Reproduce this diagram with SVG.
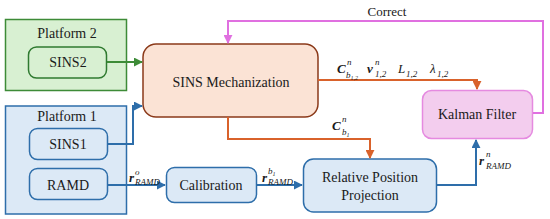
<svg xmlns="http://www.w3.org/2000/svg" width="550" height="219" viewBox="0 0 550 219">
<style>
.t{font-size:14px;text-anchor:middle}
.m{font-size:13px;font-style:italic}
.b{font-weight:bold}
.s{font-size:9px;font-style:italic}
.ln{fill:none;stroke-width:2}
</style>
<defs>
<marker id="ag" viewBox="0 0 10 10" refX="9" refY="5" markerWidth="4.5" markerHeight="4.5" orient="auto"><path d="M0,0L10,5L0,10z" fill="#3d8b37"/></marker>
<marker id="ab" viewBox="0 0 10 10" refX="9" refY="5" markerWidth="4.5" markerHeight="4.5" orient="auto"><path d="M0,0L10,5L0,10z" fill="#2e6eaa"/></marker>
<marker id="ao" viewBox="0 0 10 10" refX="9" refY="5" markerWidth="4.5" markerHeight="4.5" orient="auto"><path d="M0,0L10,5L0,10z" fill="#d9622b"/></marker>
<marker id="ap" viewBox="0 0 10 10" refX="9" refY="5" markerWidth="4.5" markerHeight="4.5" orient="auto"><path d="M0,0L10,5L0,10z" fill="#e070e0"/></marker>
</defs>
<g font-family="'Liberation Serif', 'DejaVu Serif', serif" fill="#1a1a1a">
<g id="platform2">
<rect x="5.5" y="19.5" width="121" height="71" fill="#d8f0d2" stroke="#3d8b37" stroke-width="1.5"/>
<text class="t" x="67" y="38">Platform 2</text>
</g>
<g id="sins2">
<rect x="28.5" y="47" width="78" height="31" rx="8" fill="#d8f0d2" stroke="#2f7a30" stroke-width="1.5"/>
<text class="t" x="68" y="67">SINS2</text>
</g>
<g id="platform1">
<rect x="5.5" y="106" width="121" height="108" fill="#dce9f6" stroke="#2e6eaa" stroke-width="1.5"/>
<text class="t" x="67" y="121">Platform 1</text>
</g>
<g id="sins1">
<rect x="29.5" y="128.5" width="78" height="31" rx="8" fill="#dce9f6" stroke="#2e6eaa" stroke-width="1.5"/>
<text class="t" x="68" y="149">SINS1</text>
</g>
<g id="ramd">
<rect x="29.5" y="168.5" width="78" height="31" rx="8" fill="#dce9f6" stroke="#2e6eaa" stroke-width="1.5"/>
<text class="t" x="68" y="190">RAMD</text>
</g>
<g id="sinsmech">
<rect x="143" y="44" width="175" height="73" rx="13" fill="#fbe3d5" stroke="#8b3a1a" stroke-width="1.5"/>
<text class="t" x="231" y="87">SINS Mechanization</text>
</g>
<g id="calibration">
<rect x="166.5" y="167.5" width="90" height="35" rx="8" fill="#dce9f6" stroke="#2e6eaa" stroke-width="1.5"/>
<text class="t" x="211" y="190">Calibration</text>
</g>
<g id="rpp">
<rect x="303.5" y="159" width="133" height="53" rx="10" fill="#dce9f6" stroke="#2e6eaa" stroke-width="1.5"/>
<text class="t" x="370" y="182">Relative Position</text>
<text class="t" x="370" y="200">Projection</text>
</g>
<g id="kalman">
<rect x="422.5" y="90.5" width="110" height="48" rx="9" fill="#f3cdee" stroke="#e58ae0" stroke-width="1.5"/>
<text class="t" x="477" y="119">Kalman Filter</text>
</g>
<g id="connectors">
<path class="ln" d="M107,62H142" stroke="#3d8b37" marker-end="url(#ag)"/>
<path class="ln" d="M108,144H133V106H142" stroke="#2e6eaa" marker-end="url(#ab)"/>
<path class="ln" d="M108,185H165" stroke="#2e6eaa" marker-end="url(#ab)"/>
<path class="ln" d="M257,185H302" stroke="#2e6eaa" marker-end="url(#ab)"/>
<path class="ln" d="M437,185H476V140" stroke="#2e6eaa" marker-end="url(#ab)"/>
<path class="ln" d="M228,117V139H370V158" stroke="#d9622b" marker-end="url(#ao)"/>
<path class="ln" d="M318,80H477V89" stroke="#d9622b" marker-end="url(#ao)"/>
<path class="ln" d="M533,113H543V21H228V43" stroke="#e070e0" stroke-width="1.5" marker-end="url(#ap)"/>
</g>
<g id="labels">
<text class="t" x="387" y="16" style="font-size:13px">Correct</text>
<text class="m b" x="337" y="73">C</text><text class="s" x="347" y="65">n</text><text class="s" x="346" y="78">b<tspan font-size="6" dy="2">1,2</tspan></text>
<text class="m b" x="367" y="73">v</text><text class="s" x="375" y="65">n</text><text class="s" x="375" y="77" font-style="normal">1,2</text>
<text class="m" x="398" y="73">L</text><text class="s" x="406" y="77" font-style="normal">1,2</text>
<text class="m" x="430" y="73">λ</text><text class="s" x="437" y="77" font-style="normal">1,2</text>
<text class="m b" x="332" y="130">C</text><text class="s" x="342" y="122">n</text><text class="s" x="342" y="135">b<tspan font-size="6" dy="2">1</tspan></text>
<text class="m b" x="129" y="182">r</text><text class="s" x="135" y="175">o</text><text class="s" x="135" y="185">RAMD</text>
<text class="m b" x="262" y="182">r</text><text class="s" x="268" y="174">b<tspan font-size="6" dy="2">1</tspan></text><text class="s" x="268" y="185">RAMD</text>
<text class="m b" x="479" y="165">r</text><text class="s" x="486" y="157">n</text><text class="s" x="486" y="169">RAMD</text>
</g>
</g>
</svg>
